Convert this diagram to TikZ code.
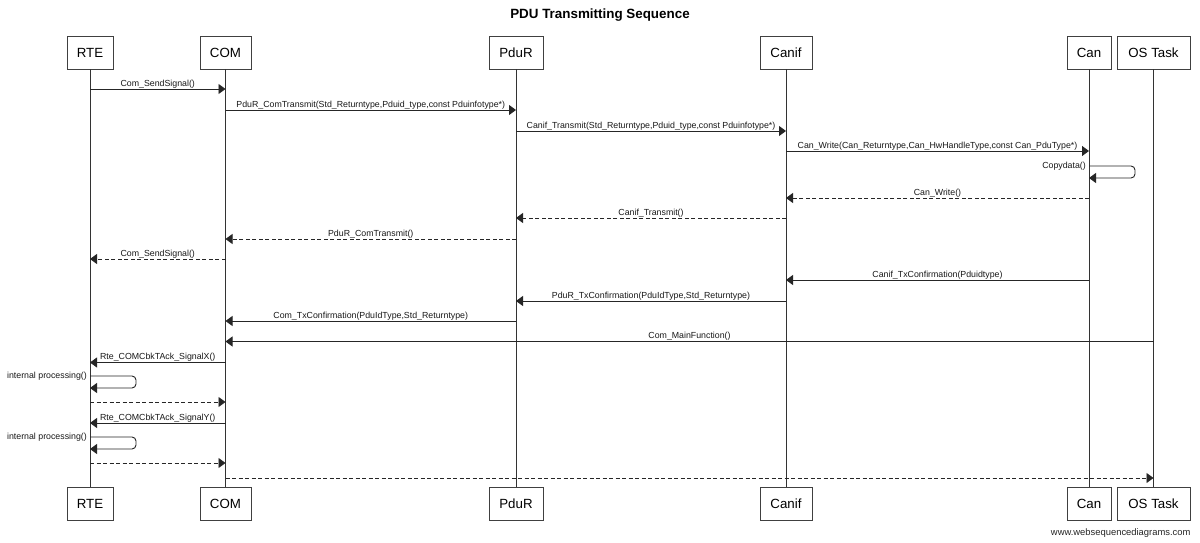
\documentclass[tikz,border=0pt]{standalone}
\usepackage{fontspec}
\setmainfont{Liberation Sans}
\usetikzlibrary{arrows.meta}
\newcommand\seqmsg[5][msg]{%
  \coordinate (yy) at (0,#4);
  \draw[#1] (#2 |- yy) -- node[lbl]{#5} (#3 |- yy);}
\newcommand\seqself[4]{%
  \coordinate (ya) at (0,#2);
  \coordinate (yb) at (0,#3);
  \draw[msg,rounded corners=4pt] (#1 |- ya) -- ++(46,0) -- ++(0,12) -- (#1 |- yb);
  \node[selflbl] at (#1 |- ya) {#4};}
\begin{document}
\begin{tikzpicture}[x=1pt,y=-1pt,
  actor/.style={draw=black!75,line width=0.9pt,minimum height=33pt,inner sep=0pt,
    font=\fontsize{13.3}{15}\selectfont,fill=white},
  life/.style={draw=black!80,line width=0.9pt},
  msg/.style={draw=black!85,line width=0.9pt,-{Triangle[length=7pt,width=10pt]}},
  ret/.style={msg,dash pattern=on 4pt off 2.5pt},
  lbl/.style={font=\fontsize{8.8}{10}\selectfont,inner sep=0.6pt,above,text=black!90},
  selflbl/.style={font=\fontsize{8.8}{10}\selectfont,inner sep=0pt,anchor=east,xshift=-3pt,text=black!90}]
\fill[white] (0,0) rectangle (1200,543);
\useasboundingbox (0,0) rectangle (1200,543);

\node[font=\bfseries\fontsize{13.4}{15}\selectfont] (title) at (600,15) {PDU Transmitting Sequence};

% actors top
\node[actor,minimum width=46pt] (rteT)   at (90,52.5)    {RTE};
\node[actor,minimum width=51pt] (comT)   at (225.5,52.5) {COM};
\node[actor,minimum width=54pt] (pdurT)  at (516,52.5)   {PduR};
\node[actor,minimum width=52pt] (canifT) at (786,52.5)   {Canif};
\node[actor,minimum width=44pt] (canT)   at (1089,52.5)  {Can};
\node[actor,minimum width=73pt] (osT)    at (1153.5,52.5){OS Task};
% actors bottom
\node[actor,minimum width=46pt] (rteB)   at (90,503.5)    {RTE};
\node[actor,minimum width=51pt] (comB)   at (225.5,503.5) {COM};
\node[actor,minimum width=54pt] (pdurB)  at (516,503.5)   {PduR};
\node[actor,minimum width=52pt] (canifB) at (786,503.5)   {Canif};
\node[actor,minimum width=44pt] (canB)   at (1089,503.5)  {Can};
\node[actor,minimum width=73pt] (osB)    at (1153.5,503.5){OS Task};

% lifelines
\draw[life] (rteT) -- (rteB);
\draw[life] (comT) -- (comB);
\draw[life] (pdurT) -- (pdurB);
\draw[life] (canifT) -- (canifB);
\draw[life] (canT) -- (canB);
\draw[life] (osT) -- (osB);

% messages
\seqmsg{rteT}{comT}{89}{Com\_SendSignal()}
\seqmsg{comT}{pdurT}{110}{PduR\_ComTransmit(Std\_Returntype,Pduid\_type,const Pduinfotype*)}
\seqmsg{pdurT}{canifT}{131}{Canif\_Transmit(Std\_Returntype,Pduid\_type,const Pduinfotype*)}
\seqmsg{canifT}{canT}{151}{Can\_Write(Can\_Returntype,Can\_HwHandleType,const Can\_PduType*)}
\seqself{canT}{166}{178}{Copydata()}
\seqmsg[ret]{canT}{canifT}{198}{Can\_Write()}
\seqmsg[ret]{canifT}{pdurT}{218}{Canif\_Transmit()}
\seqmsg[ret]{pdurT}{comT}{239}{PduR\_ComTransmit()}
\seqmsg[ret]{comT}{rteT}{259}{Com\_SendSignal()}
\seqmsg{canT}{canifT}{280}{Canif\_TxConfirmation(Pduidtype)}
\seqmsg{canifT}{pdurT}{301}{PduR\_TxConfirmation(PduIdType,Std\_Returntype)}
\seqmsg{pdurT}{comT}{321}{Com\_TxConfirmation(PduIdType,Std\_Returntype)}
\seqmsg{osT}{comT}{341.5}{Com\_MainFunction()}
\seqmsg{comT}{rteT}{362.5}{Rte\_COMCbkTAck\_SignalX()}
\seqself{rteT}{376}{388}{internal processing()}
\seqmsg[ret]{rteT}{comT}{402}{}
\seqmsg{comT}{rteT}{423}{Rte\_COMCbkTAck\_SignalY()}
\seqself{rteT}{437}{449}{internal processing()}
\seqmsg[ret]{rteT}{comT}{463}{}
\seqmsg[ret]{comT}{osT}{478}{}

\node[anchor=east,font=\fontsize{9.4}{11}\selectfont,text=black!85] (wm) at (1194,533) {www.websequencediagrams.com};
\end{tikzpicture}
\end{document}
